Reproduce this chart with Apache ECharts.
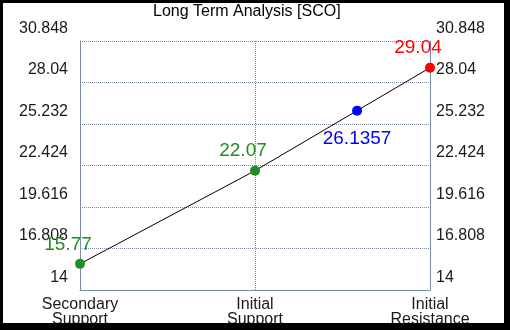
<!DOCTYPE html>
<html>
<head>
<meta charset="utf-8">
<script src="https://cdn.jsdelivr.net/npm/echarts@6/dist/echarts.min.js"></script>
<style>
    html, body { margin: 0; padding: 0; background: #000; }
    #chart { position: absolute; left: 3px; top: 3px; width: 501px; height: 320px; background: #fff; }
</style>
</head>
<body>
<div id="chart"></div>
<script>
// Data
var categories = ['Secondary\nSupport', 'Initial\nSupport', 'Initial\nResistance'];
var levels = [15.77, 22.07, 29.04];
var levelColors = ['#228b22', '#228b22', '#ff0000'];
var currentValue = 26.1357;
var currentColor = '#0000ff';
var yMin = 14;
var yMax = 30.848;
var yStep = 2.808;

var chart_element = document.getElementById('chart');

if (chart_element) {

    var chart = echarts.init(chart_element);

    // current price sits on the line between Initial Support and Initial Resistance
    var currentX = 1 + (currentValue - levels[1]) / (levels[2] - levels[1]);

    var axisColor = '#7b8ba6';
    var labelFont = {
        color: '#1a1a1a',
        fontSize: 16,
        fontFamily: 'Liberation Sans, Arial, sans-serif'
    };

    var yAxisBase = {
        type: 'value',
        min: yMin,
        max: yMax,
        interval: yStep,
        axisLine: { show: true, lineStyle: { color: axisColor, width: 1 } },
        axisTick: { show: false },
        splitLine: { show: true, lineStyle: { color: axisColor, type: [1, 1], width: 1 } }
    };

    chart.setOption({
        animation: false,
        textStyle: { fontFamily: 'Liberation Sans, Arial, sans-serif' },
        title: {
            text: 'Long Term Analysis [SCO]',
            left: 145,
            top: -4,
            textStyle: { fontSize: 16, fontWeight: 'normal', color: '#000' }
        },
        grid: {
            left: 77,
            right: 74,
            top: 38,
            bottom: 33,
            containLabel: false,
            outerBoundsMode: 'none'
        },
        xAxis: {
            type: 'value',
            min: 0,
            max: 2,
            interval: 1,
            axisLine: { show: true, onZero: false, lineStyle: { color: axisColor, width: 1 } },
            axisTick: { show: false },
            splitLine: { show: true, lineStyle: { color: axisColor, type: [1, 1], width: 1 } },
            axisLabel: Object.assign({
                margin: 7,
                lineHeight: 15,
                formatter: function (v) { return categories[Math.round(v)]; }
            }, labelFont)
        },
        yAxis: [
            Object.assign({}, yAxisBase, {
                position: 'left',
                axisLabel: Object.assign({
                    margin: 12,
                    verticalAlign: 'bottom',
                    lineHeight: 25,
                    formatter: function (v) { return +v.toFixed(3) + ''; }
                }, labelFont)
            }),
            Object.assign({}, yAxisBase, {
                position: 'right',
                splitLine: { show: false },
                axisLabel: Object.assign({
                    margin: 6,
                    verticalAlign: 'bottom',
                    lineHeight: 25,
                    formatter: function (v) { return +v.toFixed(3) + ''; }
                }, labelFont)
            })
        ],
        series: [{
            type: 'line',
            data: levels.map(function (v, i) { return [i, v]; }),
            symbol: 'none',
            lineStyle: { color: '#000', width: 1 },
            z: 2
        }, {
            type: 'scatter',
            symbolSize: 10,
            z: 3,
            itemStyle: { opacity: 1 },
            data: levels.map(function (v, i) {
                return {
                    value: [i, v],
                    itemStyle: { color: levelColors[i], opacity: 1 },
                    label: {
                        show: true,
                        position: 'top',
                        distance: 5,
                        offset: [-12, 0],
                        color: levelColors[i],
                        fontSize: 19
                    }
                };
            }).concat([{
                value: [currentX, currentValue],
                itemStyle: { color: currentColor, opacity: 1 },
                label: {
                    show: true,
                    position: 'bottom',
                    distance: 14,
                    color: currentColor,
                    fontSize: 19
                }
            }]),
            label: {
                formatter: function (p) { return p.value[1] + ''; }
            }
        }]
    });
}
</script>
</body>
</html>
